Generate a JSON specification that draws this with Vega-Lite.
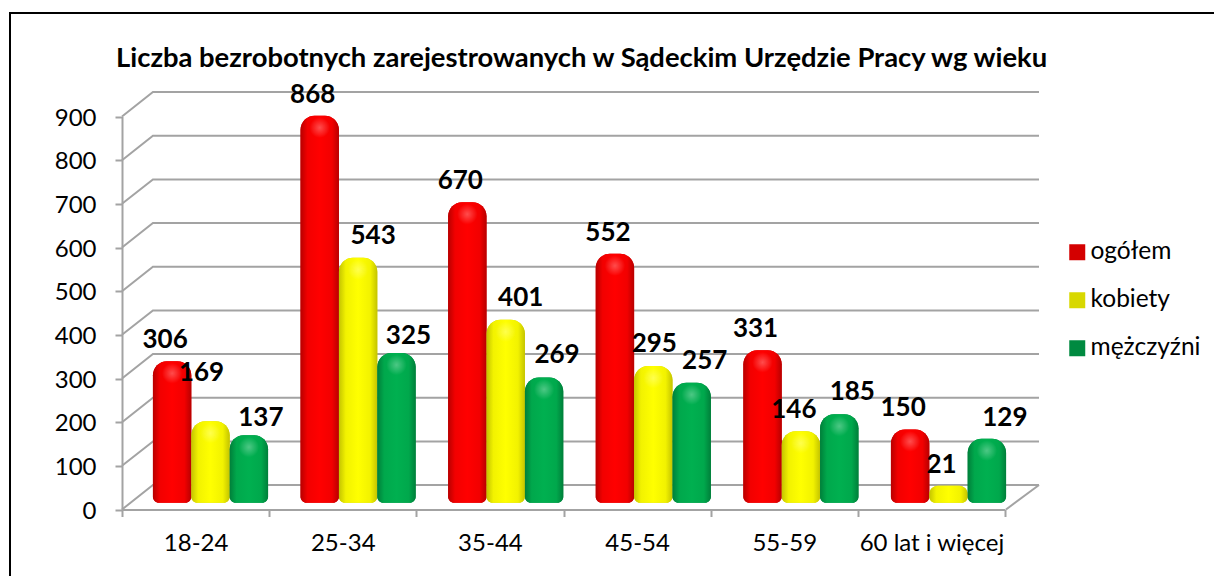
{
"$schema":"https://vega.github.io/schema/vega-lite/v6.json",
"autosize":{"type":"none"},
"padding":{"left":10,"top":13,"right":0,"bottom":0},
"width":1206,"height":564,
"background":"white",
"config":{"view":{"stroke":"black","strokeWidth":2,"fill":"white"},"font":"Lato"},
"title":{"text":"Liczba bezrobotnych zarejestrowanych w Sądeckim Urzędzie Pracy wg wieku","anchor":"start","frame":"group","font":"Lato","fontSize":27.4,"fontWeight":"bold","color":"black","dx":106,"dy":85,"baseline":"alphabetic"},
"datasets":{
"rows":[
{"wiek":"18-24","seria":"ogółem","liczba":306},{"wiek":"18-24","seria":"kobiety","liczba":169},{"wiek":"18-24","seria":"mężczyźni","liczba":137},
{"wiek":"25-34","seria":"ogółem","liczba":868},{"wiek":"25-34","seria":"kobiety","liczba":543},{"wiek":"25-34","seria":"mężczyźni","liczba":325},
{"wiek":"35-44","seria":"ogółem","liczba":670},{"wiek":"35-44","seria":"kobiety","liczba":401},{"wiek":"35-44","seria":"mężczyźni","liczba":269},
{"wiek":"45-54","seria":"ogółem","liczba":552},{"wiek":"45-54","seria":"kobiety","liczba":295},{"wiek":"45-54","seria":"mężczyźni","liczba":257},
{"wiek":"55-59","seria":"ogółem","liczba":331},{"wiek":"55-59","seria":"kobiety","liczba":146},{"wiek":"55-59","seria":"mężczyźni","liczba":185},
{"wiek":"60 lat i więcej","seria":"ogółem","liczba":150},{"wiek":"60 lat i więcej","seria":"kobiety","liczba":21},{"wiek":"60 lat i więcej","seria":"mężczyźni","liczba":129}
],
"grid":[
{"poziom":100,"g":0,"v":100},{"poziom":100,"g":0.21,"v":156},{"poziom":100,"g":6.224,"v":156},
{"poziom":200,"g":0,"v":200},{"poziom":200,"g":0.21,"v":256},{"poziom":200,"g":6.224,"v":256},
{"poziom":300,"g":0,"v":300},{"poziom":300,"g":0.21,"v":356},{"poziom":300,"g":6.224,"v":356},
{"poziom":400,"g":0,"v":400},{"poziom":400,"g":0.21,"v":456},{"poziom":400,"g":6.224,"v":456},
{"poziom":500,"g":0,"v":500},{"poziom":500,"g":0.21,"v":556},{"poziom":500,"g":6.224,"v":556},
{"poziom":600,"g":0,"v":600},{"poziom":600,"g":0.21,"v":656},{"poziom":600,"g":6.224,"v":656},
{"poziom":700,"g":0,"v":700},{"poziom":700,"g":0.21,"v":756},{"poziom":700,"g":6.224,"v":756},
{"poziom":800,"g":0,"v":800},{"poziom":800,"g":0.21,"v":856},{"poziom":800,"g":6.224,"v":856},
{"poziom":900,"g":0,"v":900},{"poziom":900,"g":0.21,"v":956},{"poziom":900,"g":6.224,"v":956},
{"poziom":0,"g":0,"v":0},{"poziom":0,"g":0.21,"v":56},{"poziom":0,"g":6.224,"v":56},
{"poziom":-1,"g":6,"v":0},{"poziom":-1,"g":6.224,"v":56}
]
},
"resolve":{"scale":{"x":"independent","y":"independent"}},
"layer":[
{"data":{"name":"grid"},
 "mark":{"type":"line","color":"#a3a3a3","strokeWidth":2,"clip":false},
 "encoding":{
  "x":{"field":"g","type":"quantitative","scale":{"domain":[0,6.224],"range":[112,1029],"nice":false,"zero":false},"axis":null},
  "y":{"field":"v","type":"quantitative","scale":{"domain":[0,900],"range":[496.5,103.5],"nice":false},
   "axis":{"orient":"left","offset":-112,"values":[0,100,200,300,400,500,600,700,800,900],"title":null,"grid":false,"domainColor":"#a3a3a3","domainWidth":2,"tickColor":"#a3a3a3","tickWidth":2,"tickSize":7,"labelFont":"Lato","labelFontSize":24,"labelColor":"black","labelPadding":19,"labelOffset":1.5}},
  "detail":{"field":"poziom"},
  "order":{"field":"g","type":"quantitative"}
 }},
{"data":{"name":"rows"},
 "mark":{"type":"point","opacity":0},
 "encoding":{
  "x":{"field":"wiek","type":"nominal","scale":{"range":[112,995],"paddingInner":0,"paddingOuter":0},
   "axis":{"orient":"bottom","offset":-67.5,"title":null,"labelAngle":0,"bandPosition":0.5,"tickBand":"extent","domainColor":"#a3a3a3","domainWidth":2,"tickColor":"#a3a3a3","tickWidth":2,"tickSize":7,"labelFont":"Lato","labelFontSize":24,"labelColor":"black","labelPadding":15}},
  "y":{"datum":0,"type":"quantitative","scale":{"domain":[0,900],"range":[496.5,103.5]},"axis":null}
 }},
{"data":{"name":"rows"},
 "encoding":{
  "x":{"field":"wiek","type":"nominal","scale":{"range":[126.7,1012.3],"paddingInner":0.22,"paddingOuter":0.11},"axis":null},
  "xOffset":{"field":"seria","type":"nominal","scale":{"domain":["ogółem","kobiety","mężczyźni"]}},
  "y":{"field":"liczba","type":"quantitative","stack":null,"scale":{"domain":[0,900],"range":[482,88.7],"nice":false},"axis":null}
 },
 "layer":[
  {"mark":{"type":"bar","cornerRadiusTopLeft":14,"cornerRadiusTopRight":14,"cornerRadiusBottomLeft":6,"cornerRadiusBottomRight":6},
   "encoding":{
    "y2":{"datum":-18},
    "color":{"field":"seria","type":"nominal","scale":{"domain":["ogółem","kobiety","mężczyźni"],"range":["#d40000","#d8d800","#008a40"]},
     "legend":{"orient":"none","legendX":1055,"legendY":227,"title":null,"symbolType":"square","symbolSize":256,"symbolStrokeWidth":0,"labelFont":"Lato","labelFontSize":24.5,"labelColor":"black","rowPadding":23,"labelOffset":1,"padding":0}}
   }},
  {"transform":[{"filter":"datum.seria=='ogółem'"}],
   "mark":{"type":"bar","cornerRadiusTopLeft":14,"cornerRadiusTopRight":14,"cornerRadiusBottomLeft":6,"cornerRadiusBottomRight":6,
    "color":{"gradient":"linear","x1":0,"x2":1,"y1":0,"y2":0,"stops":[{"offset":0,"color":"#b80000"},{"offset":0.18,"color":"#f20000"},{"offset":0.5,"color":"#ff0000"},{"offset":0.82,"color":"#f20000"},{"offset":1,"color":"#b80000"}]}},
   "encoding":{"y2":{"datum":-18}}},
  {"transform":[{"filter":"datum.seria=='kobiety'"}],
   "mark":{"type":"bar","cornerRadiusTopLeft":14,"cornerRadiusTopRight":14,"cornerRadiusBottomLeft":6,"cornerRadiusBottomRight":6,
    "color":{"gradient":"linear","x1":0,"x2":1,"y1":0,"y2":0,"stops":[{"offset":0,"color":"#c4c400"},{"offset":0.18,"color":"#f2f200"},{"offset":0.5,"color":"#ffff00"},{"offset":0.82,"color":"#f2f200"},{"offset":1,"color":"#c4c400"}]}},
   "encoding":{"y2":{"datum":-18}}},
  {"transform":[{"filter":"datum.seria=='mężczyźni'"}],
   "mark":{"type":"bar","cornerRadiusTopLeft":14,"cornerRadiusTopRight":14,"cornerRadiusBottomLeft":6,"cornerRadiusBottomRight":6,
    "color":{"gradient":"linear","x1":0,"x2":1,"y1":0,"y2":0,"stops":[{"offset":0,"color":"#007f3a"},{"offset":0.18,"color":"#00a84c"},{"offset":0.5,"color":"#00b050"},{"offset":0.82,"color":"#00a84c"},{"offset":1,"color":"#007f3a"}]}},
   "encoding":{"y2":{"datum":-18}}},
  {"transform":[{"filter":"datum.liczba>21"}],
   "mark":{"type":"point","filled":true,"size":420,"opacity":1,"strokeWidth":0,
    "fill":{"gradient":"radial","x1":0.5,"y1":0.5,"r1":0,"x2":0.5,"y2":0.5,"r2":0.5,"stops":[{"offset":0,"color":"rgba(255,255,255,0.3)"},{"offset":1,"color":"rgba(255,255,255,0)"}]}},
   "encoding":{"yOffset":{"value":12}}},
  {"transform":[{"filter":"indexof([306,868,670,552,331,150,146,21],datum.liczba)>=0"}],
   "mark":{"type":"text","font":"Lato","fontWeight":"bold","fontSize":26,"color":"black","dx":-7,"dy":-21},
   "encoding":{"text":{"field":"liczba","type":"quantitative"}}},
  {"transform":[{"filter":"datum.liczba==169"}],
   "mark":{"type":"text","font":"Lato","fontWeight":"bold","fontSize":26,"color":"black","dx":-9,"dy":-48},
   "encoding":{"text":{"field":"liczba","type":"quantitative"}}},
  {"transform":[{"filter":"indexof([269,257,185],datum.liczba)>=0"}],
   "mark":{"type":"text","font":"Lato","fontWeight":"bold","fontSize":26,"color":"black","dx":13,"dy":-22},
   "encoding":{"text":{"field":"liczba","type":"quantitative"}}},
  {"transform":[{"filter":"indexof([137,325],datum.liczba)>=0"}],
   "mark":{"type":"text","font":"Lato","fontWeight":"bold","fontSize":26,"color":"black","dx":12,"dy":-17},
   "encoding":{"text":{"field":"liczba","type":"quantitative"}}},
  {"transform":[{"filter":"indexof([543,401],datum.liczba)>=0"}],
   "mark":{"type":"text","font":"Lato","fontWeight":"bold","fontSize":26,"color":"black","dx":15,"dy":-22},
   "encoding":{"text":{"field":"liczba","type":"quantitative"}}},
  {"transform":[{"filter":"datum.liczba==295"}],
   "mark":{"type":"text","font":"Lato","fontWeight":"bold","fontSize":26,"color":"black","dx":1,"dy":-22},
   "encoding":{"text":{"field":"liczba","type":"quantitative"}}},
  {"transform":[{"filter":"datum.liczba==129"}],
   "mark":{"type":"text","font":"Lato","fontWeight":"bold","fontSize":26,"color":"black","dx":18,"dy":-21},
   "encoding":{"text":{"field":"liczba","type":"quantitative"}}}
 ]}
]
}
